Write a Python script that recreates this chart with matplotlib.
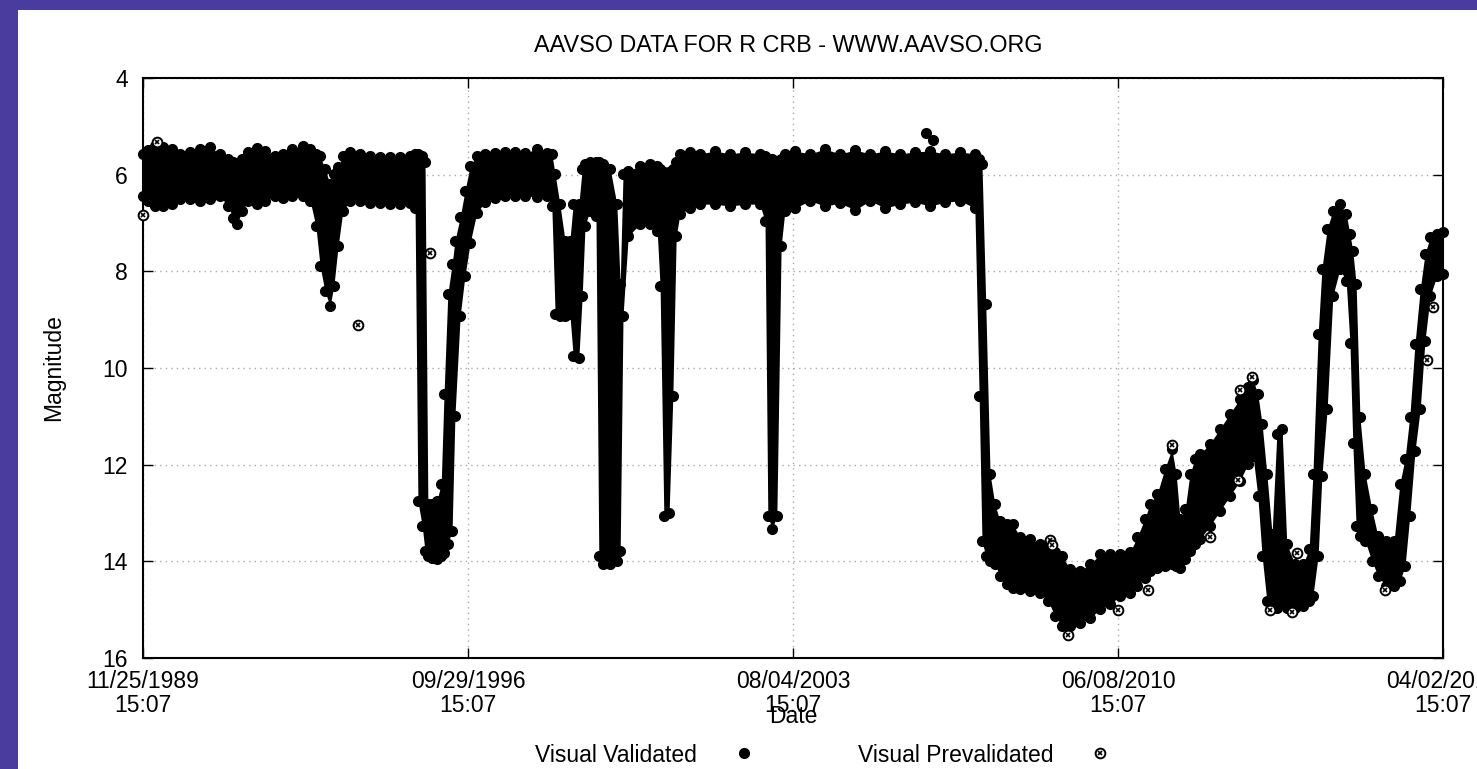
import numpy as np
import matplotlib.pyplot as plt
from matplotlib.lines import Line2D
from matplotlib.patches import Rectangle
from matplotlib.legend_handler import HandlerTuple

plt.rcParams['font.family'] = ['Liberation Sans', 'DejaVu Sans']

title = "AAVSO DATA FOR R CRB - WWW.AAVSO.ORG"
tick_labels = ["11/25/1989\n15:07", "09/29/1996\n15:07", "08/04/2003\n15:07",
               "06/08/2010\n15:07", "04/02/2017\n15:07"]
x_start, x_end = 1989.90, 2017.28

# light curve band: date (yr), brightest and faintest magnitude
date = [1989.90, 1990.01, 1990.15, 1990.32, 1990.51, 1990.68, 1990.89, 1991.10, 1991.31, 1991.52,
        1991.69, 1991.80, 1991.88, 1991.99, 1992.11, 1992.30, 1992.47, 1992.68, 1992.85, 1993.04,
        1993.27, 1993.42, 1993.54, 1993.63, 1993.73, 1993.84, 1993.92, 1994.01, 1994.11, 1994.26,
        1994.47, 1994.68, 1994.89, 1995.10, 1995.31, 1995.52, 1995.63, 1995.69, 1995.78, 1995.84,
        1995.90, 1995.99, 1996.09, 1996.18, 1996.24, 1996.32, 1996.41, 1996.47, 1996.58, 1996.68,
        1996.79, 1996.93, 1997.10, 1997.31, 1997.52, 1997.74, 1997.95, 1998.20, 1998.41, 1998.51,
        1998.58, 1998.68, 1998.79, 1998.89, 1998.96, 1999.08, 1999.15, 1999.21, 1999.31, 1999.44,
        1999.50, 1999.59, 1999.74, 1999.88, 1999.95, 2000.01, 2000.12, 2000.37, 2000.58, 2000.73,
        2000.79, 2000.87, 2000.98, 2001.06, 2001.13, 2001.21, 2001.42, 2001.63, 2001.95, 2002.26,
        2002.58, 2002.89, 2003.00, 2003.06, 2003.15, 2003.25, 2003.34, 2003.42, 2003.63, 2003.95,
        2004.26, 2004.58, 2004.90, 2005.21, 2005.53, 2005.84, 2006.16, 2006.48, 2006.79, 2007.11,
        2007.42, 2007.51, 2007.57, 2007.65, 2007.74, 2007.84, 2007.95, 2008.10, 2008.22, 2008.37,
        2008.58, 2008.79, 2008.96, 2009.11, 2009.26, 2009.42, 2009.63, 2009.85, 2010.06, 2010.27,
        2010.48, 2010.69, 2010.84, 2011.00, 2011.11, 2011.26, 2011.42, 2011.57, 2011.66, 2011.74,
        2011.85, 2011.95, 2012.06, 2012.16, 2012.37, 2012.58, 2012.79, 2013.00, 2013.17, 2013.28,
        2013.38, 2013.47, 2013.57, 2013.68, 2013.78, 2013.89, 2013.99, 2014.16, 2014.33, 2014.46,
        2014.54, 2014.65, 2014.73, 2014.84, 2014.96, 2015.11, 2015.24, 2015.32, 2015.38, 2015.45,
        2015.53, 2015.64, 2015.78, 2015.91, 2016.08, 2016.25, 2016.37, 2016.48, 2016.58, 2016.69,
        2016.80, 2016.90, 2017.01, 2017.15, 2017.28]

bright = [5.57, 5.49, 5.41, 5.43, 5.47, 5.57, 5.53, 5.47, 5.43, 5.57,
          5.68, 5.74, 5.78, 5.68, 5.53, 5.45, 5.51, 5.61, 5.57, 5.47,
          5.41, 5.47, 5.57, 5.61, 5.88, 6.19, 5.99, 5.84, 5.61, 5.53,
          5.57, 5.61, 5.63, 5.63, 5.63, 5.61, 5.57, 5.57, 5.61, 5.74,
          12.81, 12.81, 12.75, 12.40, 10.54, 8.47, 7.85, 7.37, 6.88, 6.34,
          5.82, 5.61, 5.57, 5.55, 5.53, 5.53, 5.55, 5.47, 5.55, 5.57,
          5.99, 6.61, 7.37, 7.37, 6.61, 6.61, 5.88, 5.78, 5.74, 5.74,
          5.74, 5.78, 5.88, 6.61, 8.26, 5.99, 5.92, 5.82, 5.78, 5.82,
          5.88, 5.94, 5.94, 5.88, 5.74, 5.57, 5.53, 5.57, 5.51, 5.57,
          5.53, 5.57, 5.61, 5.68, 5.68, 5.72, 5.68, 5.57, 5.51, 5.57,
          5.47, 5.57, 5.49, 5.57, 5.51, 5.57, 5.53, 5.51, 5.57, 5.53,
          5.57, 5.68, 5.78, 8.68, 12.19, 12.81, 13.17, 13.23, 13.23, 13.50,
          13.54, 13.64, 13.64, 13.81, 13.89, 14.16, 14.20, 14.06, 13.85, 13.85,
          13.85, 13.81, 13.50, 13.12, 12.81, 12.61, 12.09, 11.68, 12.19, 13.12,
          12.92, 12.19, 11.88, 11.78, 11.57, 11.26, 10.95, 10.64, 10.39, 10.25,
          10.54, 11.16, 12.19, 13.43, 11.37, 11.26, 13.64, 14.06, 14.06, 13.75,
          12.19, 9.30, 7.95, 7.12, 6.75, 6.61, 6.81, 7.23, 7.58, 8.26,
          11.01, 12.19, 12.92, 13.48, 13.58, 13.58, 12.40, 11.88, 11.01, 9.50,
          8.37, 7.64, 7.29, 7.23, 7.19]

faint = [6.44, 6.54, 6.65, 6.65, 6.61, 6.50, 6.50, 6.54, 6.50, 6.44,
         6.65, 6.90, 7.02, 6.75, 6.54, 6.61, 6.54, 6.44, 6.48, 6.44,
         6.44, 6.54, 7.06, 7.89, 8.41, 8.72, 8.30, 7.48, 6.75, 6.54,
         6.54, 6.59, 6.59, 6.61, 6.61, 6.59, 6.69, 12.75, 13.27, 13.79,
         13.89, 13.93, 13.95, 13.89, 13.83, 13.64, 13.37, 10.99, 8.92, 8.10,
         7.41, 6.79, 6.57, 6.48, 6.44, 6.44, 6.44, 6.46, 6.44, 6.65,
         8.88, 8.92, 8.92, 8.88, 9.75, 9.79, 8.51, 7.06, 6.75, 6.86,
         13.89, 14.06, 14.06, 13.99, 13.79, 8.92, 7.27, 7.02, 7.02, 7.17,
         8.30, 13.06, 13.00, 10.58, 7.27, 6.81, 6.69, 6.61, 6.61, 6.65,
         6.61, 6.61, 6.96, 13.06, 13.33, 13.06, 7.48, 6.75, 6.69, 6.54,
         6.65, 6.59, 6.73, 6.54, 6.69, 6.61, 6.57, 6.65, 6.57, 6.54,
         6.69, 10.58, 13.58, 13.89, 13.99, 14.06, 14.30, 14.47, 14.55, 14.57,
         14.61, 14.66, 14.82, 15.13, 15.34, 15.34, 15.28, 15.17, 14.99, 14.88,
         14.72, 14.66, 14.51, 14.35, 14.20, 14.14, 14.10, 14.06, 14.10, 14.14,
         13.95, 13.79, 13.64, 13.54, 13.27, 12.96, 12.65, 12.34, 11.99, 11.82,
         12.65, 13.89, 14.82, 14.97, 14.97, 14.82, 14.97, 14.97, 14.92, 14.82,
         14.72, 13.89, 12.23, 10.85, 8.51, 7.95, 8.20, 9.48, 11.55, 13.27,
         13.48, 13.58, 13.99, 14.30, 14.51, 14.51, 14.41, 14.10, 13.06, 11.72,
         10.85, 9.44, 8.51, 8.10, 8.06]

# single points off the band
valid_date = [2006.39, 2006.54]
valid_mag = [5.14, 5.28]
preval_date = [1989.90, 1990.20, 1994.43, 1995.95, 2009.00, 2009.04, 2009.38, 2010.43, 2011.07, 2011.57,
               2012.37, 2012.96, 2013.00, 2013.26, 2013.64, 2014.10, 2014.20, 2016.06, 2016.94, 2017.07]
preval_mag = [6.83, 5.32, 9.11, 7.62, 13.56, 13.66, 15.52, 15.01, 14.59, 11.59,
              13.50, 12.32, 10.46, 10.19, 15.01, 15.05, 13.83, 14.59, 9.83, 8.74]

W, H = 1477, 769
fs = 16.5
fig = plt.figure(figsize=(W / 100, H / 100), dpi=100, facecolor='#4a3c9e')
fig.add_artist(Rectangle((18 / W, 0), 1 - 18 / W, 1 - 10 / H, transform=fig.transFigure,
                         facecolor='white', edgecolor='none', zorder=0))
ax = fig.add_axes([143 / W, 1 - 658 / H, 1300 / W, 580 / H])

ax.fill_between(date, bright, faint, color='black', lw=0, zorder=2)
ax.plot(date, bright, 'o', color='black', ms=7, clip_on=False, zorder=3)
ax.plot(date, faint, 'o', color='black', ms=7, clip_on=False, zorder=3)
ax.plot(valid_date, valid_mag, 'o', color='black', ms=7, clip_on=False, zorder=3)
ax.plot(preval_date, preval_mag, 'o', mfc='white', mec='black', mew=1.4, ms=7,
        ls='', clip_on=False, zorder=4)
ax.plot(preval_date, preval_mag, 'x', color='black', mew=1.2, ms=3.5,
        ls='', clip_on=False, zorder=5)

ax.set_xlim(x_start, x_end)
ax.set_ylim(16, 4)
ax.set_yticks(np.arange(4, 17, 2))
ax.set_xticks(np.linspace(x_start, x_end, len(tick_labels)))
ax.set_xticklabels(tick_labels)
for lbl in ax.get_xticklabels():
    lbl.set_linespacing(1.07)

ax.tick_params(direction='in', length=7, width=1, top=True, right=True, labelsize=fs)
ax.tick_params(axis='x', pad=8.5)
ax.tick_params(axis='y', pad=11)
for s in ax.spines.values():
    s.set_linewidth(1.5)
ax.set_axisbelow(True)
ax.grid(True, color='#aaaaaa', linestyle=(0, (1, 3)), linewidth=1)

ax.set_ylabel("Magnitude", fontsize=fs)
ax.yaxis.set_label_coords(-0.06, 0.5)
ax.set_xlabel("Date", fontsize=fs)
ax.xaxis.set_label_coords(0.5, -0.081)

fig.text(788 / W, 1 - 45 / H, title, fontsize=16.8, ha='center', va='center')

h1 = Line2D([], [], marker='o', ls='', color='black', ms=7)
h2a = Line2D([], [], marker='o', ls='', mfc='white', mec='black', mew=1.4, ms=7)
h2b = Line2D([], [], marker='x', ls='', color='black', mew=1.2, ms=3.5)
fig.legend([h1, (h2a, h2b)], ["Visual Validated", "Visual Prevalidated"],
           handler_map={tuple: HandlerTuple(ndivide=1)},
           loc='center', bbox_to_anchor=(832 / W, 1 - 755 / H), ncol=2,
           markerfirst=False, frameon=False, fontsize=fs,
           handlelength=2.5, handletextpad=0.8, columnspacing=3.7)

fig.savefig('out.png', dpi=100, facecolor=fig.get_facecolor())
